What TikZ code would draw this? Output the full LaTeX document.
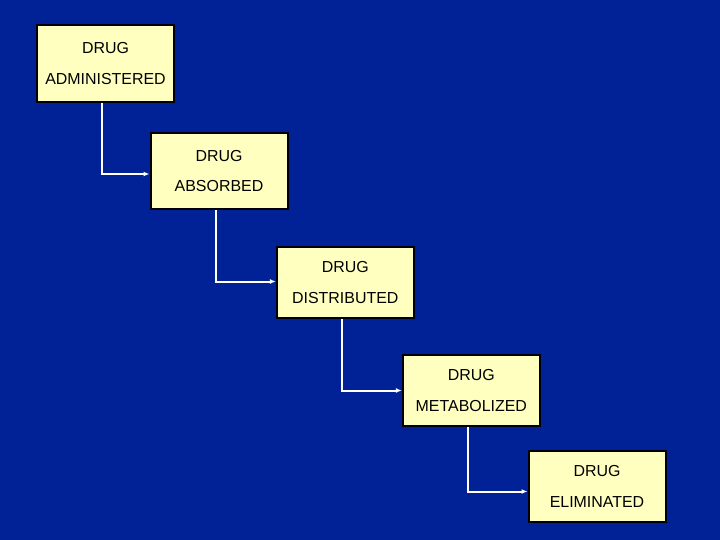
\documentclass[tikz,border=0pt]{standalone}
\usepackage{fontspec}
\setmainfont{Liberation Sans}
\usepackage{tikz}
\usetikzlibrary{positioning,arrows.meta}
\definecolor{slideblue}{RGB}{0,34,150}
\definecolor{boxyellow}{RGB}{255,255,192}
\tikzset{stagebox/.style={draw=black,line width=2bp,fill=boxyellow,
                    minimum width=137bp,align=center,inner sep=0pt,
                    font=\fontsize{16}{31}\selectfont},
         flow/.style={white,line width=2bp,-{Latex[length=6bp,width=5bp]}}}

\begin{document}
\begin{tikzpicture}[x=1bp,y=-1bp]
                \fill[slideblue] (0,0) rectangle (720,540);
                \useasboundingbox (0,0) rectangle (720,540);
                \node[stagebox,minimum height=77bp] (adm) at (105.5,63.5) {DRUG\\ADMINISTERED};
                \node[stagebox,minimum height=76bp] (abs) at (219,171) {DRUG\\ABSORBED};
                \node[stagebox,minimum height=71bp] (dis) at (345.3,282.5) {DRUG\\DISTRIBUTED};
                \node[stagebox,minimum height=71bp] (met) at (471.3,390.5) {DRUG\\METABOLIZED};
                \node[stagebox,minimum height=71bp] (eli) at (597,486.5) {DRUG\\ELIMINATED};
                %\draw[flow] (adm) |- (abs);
                \draw[flow] ([xshift=-3.5bp]adm.south) |- ([yshift=-3bp]abs.west);
                \draw[flow] ([xshift=-3.5bp]abs.south) |- ([yshift=1bp]dis.west);
                \draw[flow] ([xshift=-3.5bp]dis.south) |- (met.west);
                \draw[flow] ([xshift=-3.5bp]met.south) |- ([yshift=-5bp]eli.west);
                \end{tikzpicture}
\end{document}
